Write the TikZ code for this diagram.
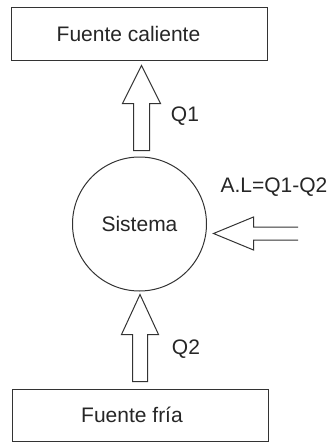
\documentclass[tikz,border=0pt]{standalone}
\usepackage{fontspec}
\setmainfont{Liberation Sans}
\usetikzlibrary{calc}
\begin{document}
\begin{tikzpicture}[x=1pt,y=-1pt,line width=1pt,
  txt/.style={font=\fontsize{21}{25}\selectfont,inner sep=0pt,text=black!85},
  box/.style={draw=black!80,minimum width=256pt,minimum height=53pt,inner sep=0pt},
  blockarrow/.style={draw=black!80,line join=miter}]
\useasboundingbox (0,0) rectangle (332,442);
\node[box,label={[txt,xshift=-11pt]center:Fuente caliente}] (hot) at (139.5,33.5) {};
\node[box,minimum height=52pt,label={[txt,xshift=-8pt]center:Fuente fría}] (cold) at (140,415) {};
\node[draw=black!80,circle,minimum size=134pt,inner sep=0pt] (sys) at (139.5,224) {};
\node[txt] (sistema) at (sys.center) {Sistema};
% top arrow Q1
\coordinate (t1) at ($(hot.south)+(2,5)$);
\coordinate (b1) at ($(sys.north)+(2,-6)$);
\draw[blockarrow] (t1) -- ++(19,38) -- ++(-11,0) |- ($(b1)+(-8,0)$) |- ($(t1)+(-19,38)$) -- cycle;
% bottom arrow Q2
\coordinate (t2) at ($(sys.south)+(0.5,3)$);
\coordinate (b2) at ($(cold.north)+(0,-7)$);
\draw[blockarrow] (t2) -- ++(18.5,40) -- ++(-11,0) |- ($(b2)+(-7.5,0)$) |- ($(t2)+(-18.5,40)$) -- cycle;
% left arrow A.L
\coordinate (t3) at ($(sys.east)+(6.5,9.5)$);
\coordinate (r3) at (298,233.5);
\draw[blockarrow] ($(r3)+(0,-6.5)$) -| ($(t3)+(40,-16.5)$) -- (t3) -- ($(t3)+(40,16.5)$) |- ($(r3)+(0,6.5)$);
\node[txt] (q1) at (185,116) {Q1};
\node[txt] (q2) at (186,349) {Q2};
\node[txt] (al) at (274,187) {A.L=Q1-Q2};
\end{tikzpicture}
\end{document}
